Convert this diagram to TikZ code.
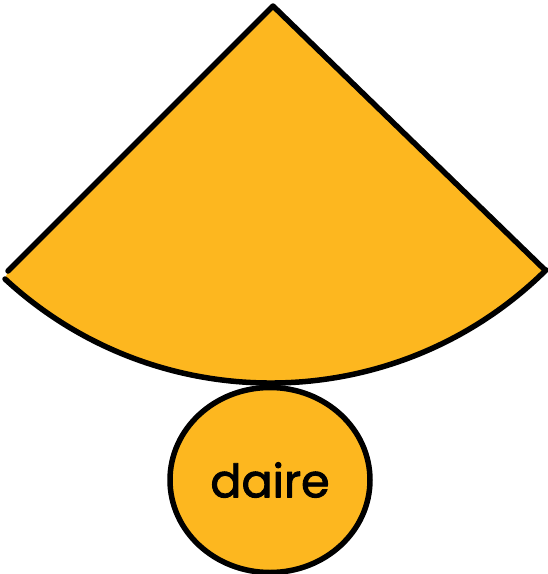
\documentclass[tikz,border=0pt]{standalone}
\usepackage{fontspec}
\setmainfont{Poppins}
\newfontfamily\labelfont[FakeBold=2]{Poppins}
\usetikzlibrary{shapes.geometric}
\definecolor{koni}{HTML}{FDB71F}

\begin{document}
\begin{tikzpicture}[
  x=1pt,y=-1pt,
  edge/.style={draw=black,line width=5.5pt,line cap=round,line join=round},
  base/.style={ellipse,edge,fill=koni,minimum width=200pt,minimum height=185pt,font=\labelfont\fontsize{46}{50}\selectfont,inner sep=0pt}
]
\useasboundingbox (0,0) rectangle (548,574);
\coordinate (apex) at (273,6);
\coordinate (L) at (8,271);
\coordinate (R) at (545,270);
\coordinate (A) at (5,279);
% cone net (sector)
\fill[koni] (apex) -- (L) -- (A) arc[start angle=132.75,end angle=45.34,radius=391.6] -- cycle;
\draw[edge] (L) -- (apex) -- (R);
\draw[edge] (A) arc[start angle=132.75,end angle=45.34,radius=391.6];
% base circle
\node[base] (daire) at (270,480) {daire};
\end{tikzpicture}
\end{document}
